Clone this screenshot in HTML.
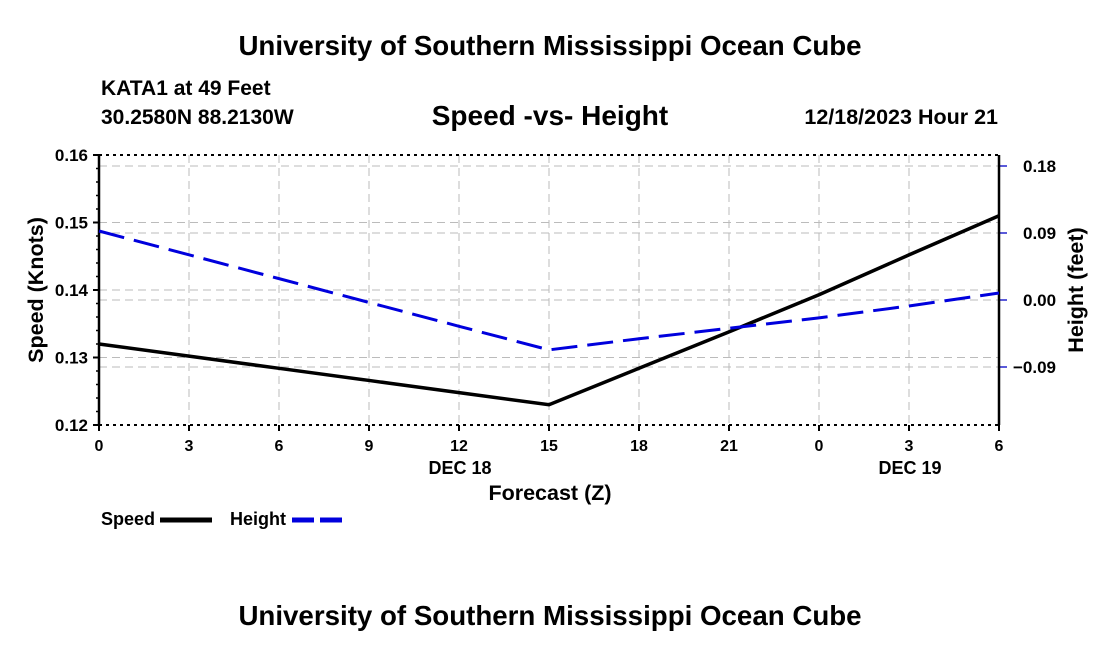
<!DOCTYPE html>
<html><head><meta charset="utf-8"><style>
body{margin:0;background:#fff;width:1100px;height:650px;overflow:hidden}
svg text{font-family:"Liberation Sans",sans-serif;font-weight:bold;fill:#000}
</style></head><body>
<svg width="1100" height="650">
<text x="550" y="55" font-size="27.7" text-anchor="middle">University of Southern Mississippi Ocean Cube</text>
<text x="101" y="95" font-size="21">KATA1 at 49 Feet</text>
<text x="101" y="124" font-size="21">30.2580N  88.2130W</text>
<text x="550" y="125" font-size="28" text-anchor="middle">Speed -vs- Height</text>
<text x="998" y="124" font-size="21.5" text-anchor="end">12/18/2023 Hour 21</text>
<g id="grid"></g>
<g id="axes"></g>
<g id="series"></g>
<text x="460" y="474" font-size="18" text-anchor="middle">DEC 18</text>
<text x="910" y="474" font-size="18" text-anchor="middle">DEC 19</text>
<text x="550" y="500" font-size="21.5" text-anchor="middle">Forecast (Z)</text>
<text transform="translate(43,290) rotate(-90)" font-size="21.5" text-anchor="middle">Speed (Knots)</text>
<text transform="translate(1083,290) rotate(-90)" font-size="21.5" text-anchor="middle">Height (feet)</text>
<g>
<text x="101" y="525" font-size="18">Speed</text>
<line x1="160" y1="520" x2="212" y2="520" stroke="#000" stroke-width="5"/>
<text x="230" y="525" font-size="18">Height</text>
<line x1="292" y1="520" x2="342" y2="520" stroke="#0000dd" stroke-width="5" stroke-dasharray="22,6"/>
</g>
<text x="550" y="625" font-size="27.7" text-anchor="middle">University of Southern Mississippi Ocean Cube</text>
</svg>
<script>
const hours=[0,3,6,9,12,15,18,21,24,27,30];
const xTickLabels=["0","3","6","9","12","15","18","21","0","3","6"];
const speed=[0.132,0.1302,0.1284,0.1266,0.1248,0.123,0.1284,0.1338,0.1393,0.1452,0.151];
const height=[0.0927,0.0607,0.0287,-0.0033,-0.0353,-0.067,-0.052,-0.038,-0.024,-0.008,0.0094];
const speedTicks=[0.12,0.13,0.14,0.15,0.16];
const heightTicks=[-0.09,0,0.09,0.18];
const L=99,R=999,T=155,B=425;
const xs=h=>L+h/30*(R-L);
const ys=v=>B-(v-0.12)/0.04*(B-T);
const yh=v=>300-v*(67/0.09);
const NS="http://www.w3.org/2000/svg";
function mk(parent,tag,attrs){const e=document.createElementNS(NS,tag);for(const k in attrs)e.setAttribute(k,attrs[k]);document.getElementById(parent).appendChild(e);return e;}
xTickLabels.forEach((t,i)=>{const x=xs(i*3);
 if(i>0&&i<xTickLabels.length-1){const g=mk('grid','line',{x1:x,y1:T,x2:x,y2:B,stroke:'#bbb','stroke-dasharray':'8,5'});
 
 }
 const tk=mk('axes','line',{x1:x,y1:B,x2:x,y2:B+6,stroke:'#000','stroke-width':2});
 
 
 const tx=mk('axes','text',{x:x,y:451,'font-size':16,'text-anchor':'middle'});tx.textContent=t;
 
 
});
speedTicks.forEach(v=>{const y=ys(v);
 if(v>0.12&&v<0.16){const g=mk('grid','line',{x1:L,y1:y,x2:R,y2:y,stroke:'#bbb','stroke-dasharray':'8,5'});
 
 }
 const tk=mk('axes','line',{x1:L-6,y1:y,x2:L,y2:y,stroke:'#000','stroke-width':2});
 
 
 const tx=mk('axes','text',{x:L-11,y:y+6,'font-size':17,'text-anchor':'end'});tx.textContent=v.toFixed(2);
 
 
});
for(let v=0.12;v<0.16;v+=0.002){const y=ys(v);const m=mk('axes','line',{x1:L-3,y1:y,x2:L,y2:y,stroke:'#000','stroke-width':1.5});
 
 }
heightTicks.forEach(v=>{const y=yh(v);
 const g=mk('grid','line',{x1:L,y1:y,x2:R,y2:y,stroke:'#bbb','stroke-dasharray':'8,5'});
 
 
 const tk=mk('axes','line',{x1:R,y1:y,x2:R+8,y2:y,stroke:'#22c','stroke-width':1.5});
 
 
 const tx=mk('axes','text',{x:R+(v<0?14:24),y:y+6,'font-size':17});tx.textContent=(v<0?'\u22120.09':v.toFixed(2));
 
 
});
[[L,T,R,T],[L,B,R,B]].forEach(a=>{const l=mk('axes','line',{x1:a[0],y1:a[1],x2:a[2],y2:a[3],stroke:'#000','stroke-width':2,'stroke-dasharray':'3,4'});
 
 });
[[L,T,L,B],[R,T,R,B]].forEach(a=>{const l=mk('axes','line',{x1:a[0],y1:a[1],x2:a[2],y2:a[3],stroke:'#000','stroke-width':2.5});
 
 });
const sp=mk('series','polyline',{points:hours.map((h,i)=>xs(h)+','+ys(speed[i])).join(' '),fill:'none',stroke:'#000','stroke-width':3.5});


const hp=mk('series','polyline',{points:hours.map((h,i)=>xs(h)+','+yh(height[i])).join(' '),fill:'none',stroke:'#0000dd','stroke-width':3,'stroke-dasharray':'26,10'});


</script>
</body></html>
